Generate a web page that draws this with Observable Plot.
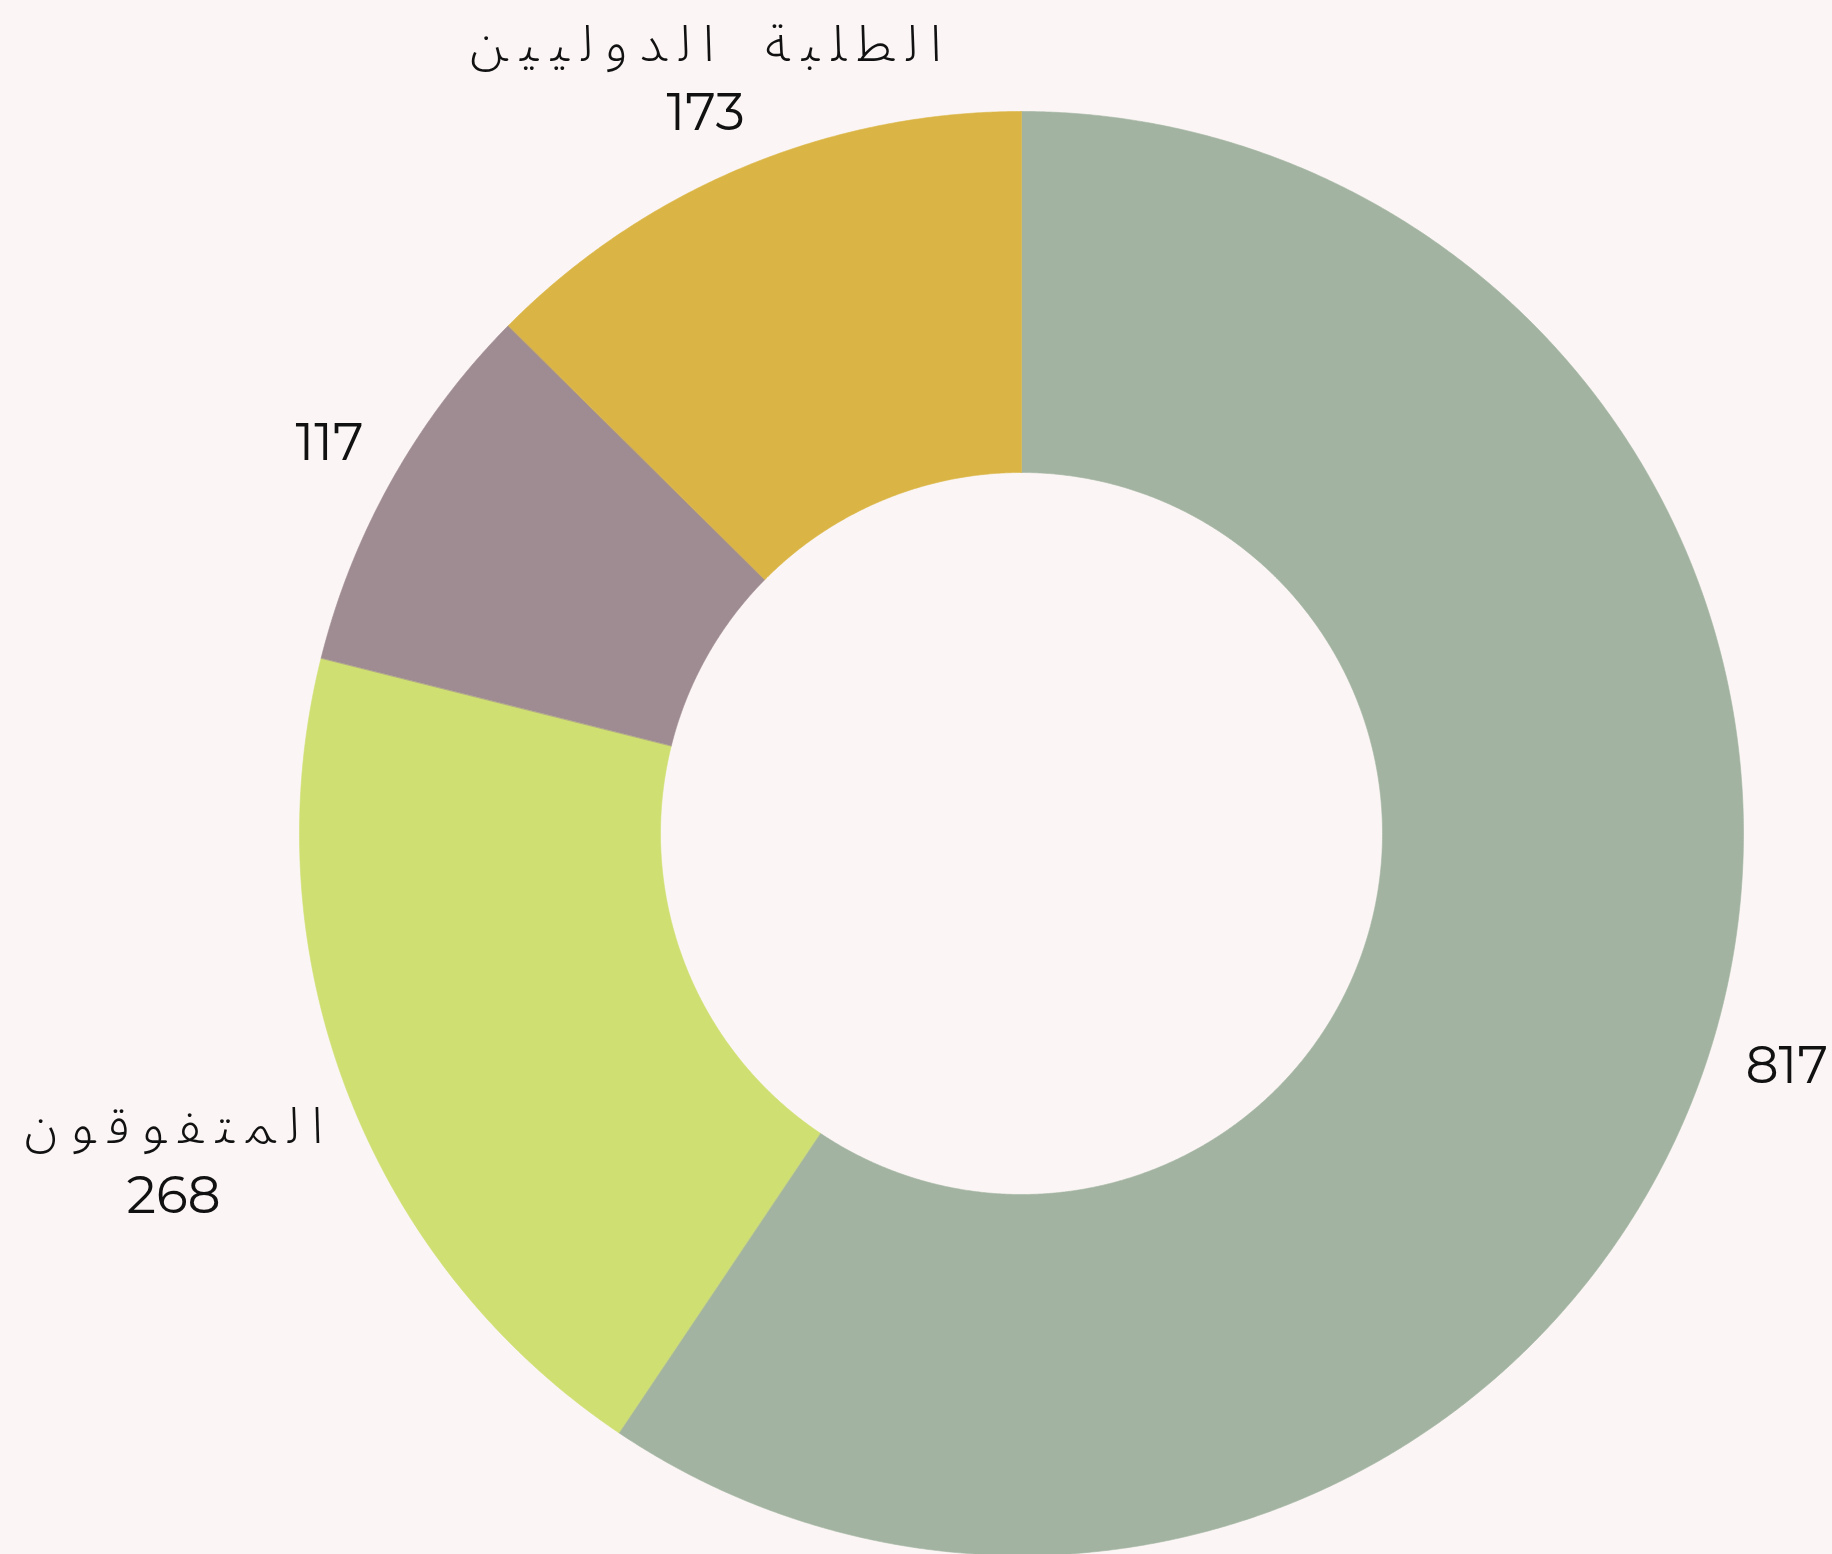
<!DOCTYPE html>
<html>
<head>
<meta charset="utf-8">
<script src="https://cdn.jsdelivr.net/npm/d3@7"></script>
<script src="https://cdn.jsdelivr.net/npm/@observablehq/plot@0.6"></script>
<style>
  html, body { margin: 0; padding: 0; background: #fbf6f5; }
  #chart svg { display: block; }
</style>
</head>
<body>
<div id="chart"></div>
<script>
// Data
const categories = ["", "المتفوقون", "", "الطلبة الدوليين"];
const values = [817, 268, 117, 173];
const colors = ["#a2b4a1", "#cfdf71", "#9f8b92", "#dab545"];

// Layout
const W = 1832, H = 1554;
const cx = 1021, cy = 833, R = 722, inner = 0.5;
const labelR = [1.108, 1.258, 1.10, 1.136];

// Letter-spaced Arabic (keeps contextual joining forms, like letter-spacing would)
const ZWJ = "\u200D", GAP = "\u2005";
const rightJoinOnly = new Set([..."اأإآدذرزوؤةء"]);
function spaced(str) {
  const ch = [...str];
  let out = "";
  for (let k = 0; k < ch.length; k++) {
    const c = ch[k], n = ch[k + 1];
    out += c;
    if (n === undefined) break;
    if (c === " ") { out += GAP + GAP; continue; }
    if (n === " ") { out += GAP; continue; }
    if (!rightJoinOnly.has(c)) out += ZWJ + GAP + ZWJ;
    else out += GAP;
  }
  return out;
}

const total = d3.sum(values);
const slices = [];
let acc = 0;
values.forEach((v, i) => {
  const a0 = acc / total * 2 * Math.PI;
  acc += v;
  const a1 = acc / total * 2 * Math.PI;
  slices.push({i, v, name: categories[i], color: colors[i], a0, a1, mid: (a0 + a1) / 2});
});

const pts = [];
for (const s of slices) {
  const n = Math.max(4, Math.ceil((s.a1 - s.a0) / (Math.PI / 720)));
  for (let k = 0; k <= n; k++) {
    const a = s.a0 + (s.a1 - s.a0) * k / n;
    pts.push({slice: s.i, color: s.color, x: Math.sin(a), y: Math.cos(a)});
  }
  for (let k = n; k >= 0; k--) {
    const a = s.a0 + (s.a1 - s.a0) * k / n;
    pts.push({slice: s.i, color: s.color, x: inner * Math.sin(a), y: inner * Math.cos(a)});
  }
}

const labels = slices.map(s => ({
  ...s,
  lx: labelR[s.i] * Math.sin(s.mid),
  ly: labelR[s.i] * Math.cos(s.mid),
  hasName: s.name !== ""
}));
const numFont = {fill: "#111", fontSize: 52, fontFamily: "Montserrat, Lato, 'Noto Sans', sans-serif", fontWeight: 400, lineAnchor: "middle", textAnchor: "middle"};

const chart = Plot.plot({
  width: W,
  height: H,
  margin: 0,
  style: {background: "#fbf6f5"},
  x: {domain: [-cx / R, (W - cx) / R], range: [0, W], axis: null},
  y: {domain: [-(H - cy) / R, cy / R], range: [H, 0], axis: null},
  color: {type: "identity"},
  marks: [
    Plot.line(pts, {x: "x", y: "y", z: "slice", fill: "color", stroke: "color", strokeWidth: 0.6, curve: "linear-closed"}),
    Plot.text(labels.filter(d => !d.hasName), {x: "lx", y: "ly", text: d => String(d.v), ...numFont}),
    Plot.text(labels.filter(d => d.hasName), {x: "lx", y: "ly", text: d => String(d.v), dy: 37, ...numFont}),
    Plot.text(labels.filter(d => d.hasName), {
      x: "lx", y: "ly",
      text: d => spaced(d.name),
      dy: -32,
      fill: "#111",
      fontSize: 50,
      fontFamily: "'Noto Sans Arabic', 'Noto Sans', 'DejaVu Sans', sans-serif",
      fontWeight: 300,
      lineAnchor: "middle",
      textAnchor: "middle"
    })
  ]
});

document.getElementById("chart").appendChild(chart);
</script>
</body>
</html>
